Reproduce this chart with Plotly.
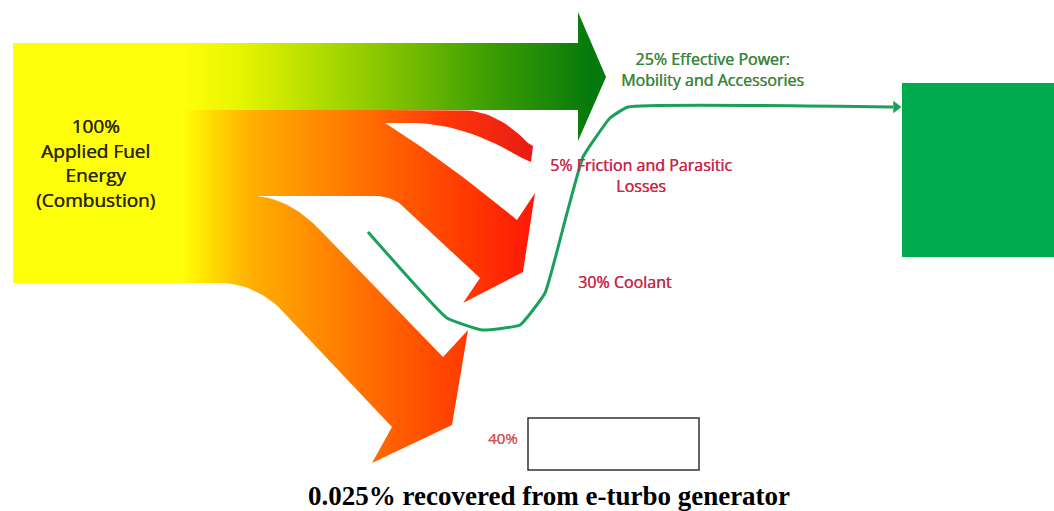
import numpy as np
import plotly.graph_objects as go

# ---------------- data ----------------
flow_names = ["Applied Fuel<br>Energy<br>(Combustion)",
              "Effective Power:<br>Mobility and Accessories",
              "Friction and Parasitic<br>Losses",
              "Coolant",
              ""]
flow_shares = [100, 25, 5, 30, 40]
footer_text = "0.025% recovered from e-turbo generator"

# ---------------- helpers ----------------
def quad(p0, c, p1, n=18):
    t = np.linspace(0, 1, n)
    x = (1 - t) ** 2 * p0[0] + 2 * (1 - t) * t * c[0] + t ** 2 * p1[0]
    y = (1 - t) ** 2 * p0[1] + 2 * (1 - t) * t * c[1] + t ** 2 * p1[1]
    return list(zip(x, y))

def poly(pts):
    xs = [p[0] for p in pts] + [pts[0][0]]
    ys = [p[1] for p in pts] + [pts[0][1]]
    return xs, ys

fig = go.Figure()

# ---------- green (effective power) arrow ----------
green_pts = [(182, 43), (578, 43), (578, 12), (606, 77), (578, 141), (578, 110), (182, 110)]
gx, gy = poly(green_pts)
fig.add_trace(go.Scatter(
    x=gx, y=gy, mode="lines", fill="toself", line=dict(width=0),
    fillgradient=dict(type="horizontal", start=182, stop=590,
                      colorscale=[[0, "#ffff0a"], [0.14, "#e8f500"], [0.34, "#b0dc00"],
                                  [0.54, "#7abf00"], [0.74, "#40a002"], [1, "#057a0c"]]),
    hoverinfo="skip", showlegend=False))

# ---------- orange losses (coolant + exhaust) ----------
orange_pts = [(182, 110), (392, 110), (392, 123), (385, 123)]
orange_pts += quad((385, 123), (447, 162), (517, 220))
orange_pts += [(535, 193), (523, 272), (463, 303), (480, 278), (402, 205)]
orange_pts += quad((402, 205), (390, 196), (375, 196))
orange_pts += [(257, 196)]
orange_pts += quad((257, 196), (290, 199), (320, 230))
orange_pts += [(443, 357), (468, 330), (452, 425), (372, 463), (392, 427), (285, 313)]
orange_pts += quad((285, 313), (255, 283), (220, 283))
orange_pts += [(182, 283)]
ox, oy = poly(orange_pts)
fig.add_trace(go.Scatter(
    x=ox, y=oy, mode="lines", fill="toself", line=dict(width=0),
    fillgradient=dict(type="horizontal", start=182, stop=540,
                      colorscale=[[0, "#ffff0a"], [0.09, "#ffd800"], [0.19, "#ffb000"],
                                  [0.33, "#ff9400"], [0.55, "#ff6800"], [0.75, "#ff4200"],
                                  [1, "#ff1408"]]),
    hoverinfo="skip", showlegend=False))

# ---------- thin friction arrow ----------
fr_pts = [(380, 110), (460, 110)]
fr_pts += quad((460, 110), (497, 110), (528, 143))
fr_pts += [(533, 146), (531, 162), (522, 158)]
fr_pts += quad((522, 158), (465, 124), (415, 123))
fr_pts += [(380, 123)]
fx, fy = poly(fr_pts)
fig.add_trace(go.Scatter(
    x=fx, y=fy, mode="lines", fill="toself", line=dict(width=0),
    fillgradient=dict(type="horizontal", start=380, stop=535,
                      colorscale=[[0, "#ff6600"], [0.4, "#ff3808"], [1, "#e81a14"]]),
    hoverinfo="skip", showlegend=False))

# ---------- green recovery path ----------
path_x = [368, 447, 482, 520, 545, 567, 583, 610, 628, 893]
path_y = [232, 318, 330, 325, 293, 213, 157, 118, 107, 107]
fig.add_trace(go.Scatter(
    x=path_x, y=path_y, mode="lines", line=dict(color="#19a05a", width=3, shape="spline", smoothing=0.35),
    hoverinfo="skip", showlegend=False))
fig.add_trace(go.Scatter(
    x=[896], y=[107], mode="markers",
    marker=dict(symbol="triangle-right", size=11, color="#19a05a"),
    hoverinfo="skip", showlegend=False))

# ---------- shapes ----------
shapes = [
    dict(type="rect", x0=13, x1=186, y0=43, y1=283, fillcolor="#ffff0a", line=dict(width=0), layer="below"),
    dict(type="rect", x0=902, x1=1060, y0=83, y1=257, fillcolor="#00aa4f", line=dict(width=0), layer="below"),
    dict(type="rect", x0=528, x1=699, y0=418, y1=470, fillcolor="rgba(0,0,0,0)",
         line=dict(color="#333333", width=1.5)),
]

# ---------- text ----------
def f(size, color):
    return dict(family="Open Sans", size=size, color=color, shadow=f"0.45px 0px 0px {color}")

red = "#c8284a"
ann = [
    dict(x=95, y=163, text=f"{flow_shares[0]}%<br>{flow_names[0]}", font=f(19, "#2a2810")),
    dict(x=712, y=69, text=f"{flow_shares[1]}% {flow_names[1]}", font=f(16, "#3a863c")),
    dict(x=641, y=175, text=f"{flow_shares[2]}% {flow_names[2]}", font=f(16, red)),
    dict(x=625, y=282, text=f"{flow_shares[3]}% {flow_names[3]}", font=f(16, red)),
    dict(x=503, y=438, text=f"{flow_shares[4]}%", font=f(15, "#d9505a")),
    dict(x=549, y=496, text=f"<b>{footer_text}</b>",
         font=dict(family="Liberation Serif", size=27, color="#000000")),
]
for a in ann:
    a.update(xref="x", yref="y", showarrow=False, xanchor="center", yanchor="middle", align="center")

fig.update_layout(
    width=1054, height=511, margin=dict(l=0, r=0, t=0, b=0),
    paper_bgcolor="white", plot_bgcolor="white",
    xaxis=dict(range=[0, 1054], visible=False, fixedrange=True),
    yaxis=dict(range=[511, 0], visible=False, fixedrange=True),
    shapes=shapes, annotations=ann, showlegend=False,
)
fig.write_html("out.html", config={"displayModeBar": False},
               post_script="document.body.style.margin='0px';document.body.style.overflow='hidden';")
